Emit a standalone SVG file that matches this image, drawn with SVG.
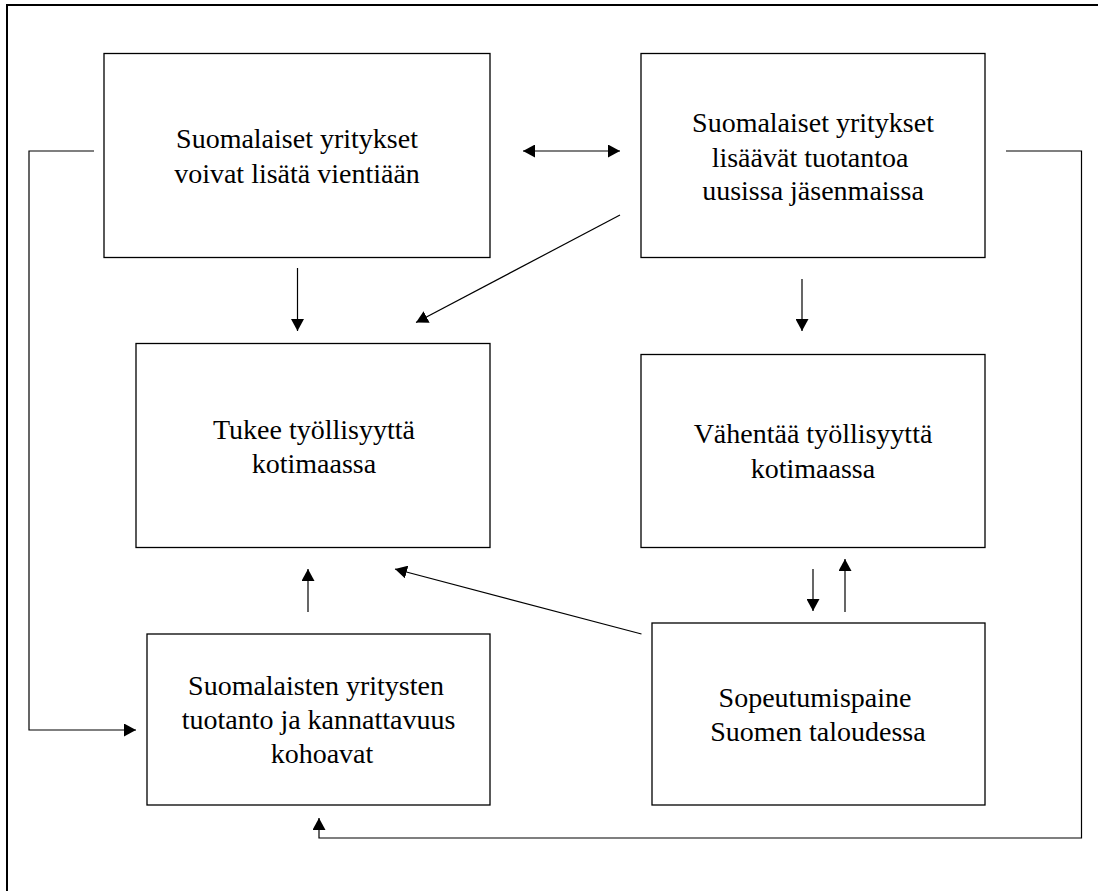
<svg xmlns="http://www.w3.org/2000/svg" width="1098" height="891" viewBox="0 0 1098 891">
<defs>
<marker id="ah" viewBox="0 0 12 13" refX="12" refY="6.5" markerWidth="12" markerHeight="13" markerUnits="userSpaceOnUse" orient="auto-start-reverse">
<path d="M0,0 L12,6.5 L0,13 z" fill="#000"/>
</marker>
</defs>
<rect width="1098" height="891" fill="#fff"/>
<path fill="none" stroke="#000" stroke-width="2" d="M7,895 L7,5 L1102,5"/>
<g id="n1" font-family="Liberation Serif, serif" font-size="28" text-anchor="middle">
<rect fill="#fff" stroke="#000" stroke-width="1.3" x="104" y="53.5" width="386" height="204"/>
<text x="297" y="148">Suomalaiset yritykset</text>
<text x="297" y="183">voivat lisätä vientiään</text>
</g>
<g id="n2" font-family="Liberation Serif, serif" font-size="28" text-anchor="middle">
<rect fill="#fff" stroke="#000" stroke-width="1.3" x="641" y="53.5" width="344" height="204"/>
<text x="813" y="131.5">Suomalaiset yritykset</text>
<text x="810" y="166.5">lisäävät tuotantoa</text>
<text x="813" y="200">uusissa jäsenmaissa</text>
</g>
<g id="n3" font-family="Liberation Serif, serif" font-size="28" text-anchor="middle">
<rect fill="#fff" stroke="#000" stroke-width="1.3" x="136" y="343.5" width="354" height="204"/>
<text x="314" y="439">Tukee työllisyyttä</text>
<text x="314" y="473">kotimaassa</text>
</g>
<g id="n4" font-family="Liberation Serif, serif" font-size="28" text-anchor="middle">
<rect fill="#fff" stroke="#000" stroke-width="1.3" x="641" y="354.5" width="344" height="193"/>
<text x="813" y="442.5">Vähentää työllisyyttä</text>
<text x="813" y="478">kotimaassa</text>
</g>
<g id="n5" font-family="Liberation Serif, serif" font-size="28" text-anchor="middle">
<rect fill="#fff" stroke="#000" stroke-width="1.3" x="147" y="634" width="343" height="171"/>
<text x="316" y="695">Suomalaisten yritysten</text>
<text x="318.5" y="729">tuotanto ja kannattavuus</text>
<text x="322" y="762.5">kohoavat</text>
</g>
<g id="n6" font-family="Liberation Serif, serif" font-size="28" text-anchor="middle">
<rect fill="#fff" stroke="#000" stroke-width="1.3" x="652" y="623" width="333" height="182"/>
<text x="815" y="706.5">Sopeutumispaine</text>
<text x="818" y="741">Suomen taloudessa</text>
</g>
<g id="connectors" fill="none" stroke="#000" stroke-width="1.2">
<line x1="523" y1="151" x2="620" y2="151" marker-start="url(#ah)" marker-end="url(#ah)"/>
<line x1="297.5" y1="268" x2="297.5" y2="331" marker-end="url(#ah)"/>
<line x1="620" y1="215" x2="416" y2="322.5" marker-end="url(#ah)"/>
<line x1="802" y1="279" x2="802" y2="331" marker-end="url(#ah)"/>
<line x1="308" y1="612" x2="308" y2="569" marker-end="url(#ah)"/>
<line x1="641.5" y1="634" x2="395" y2="569" marker-end="url(#ah)"/>
<line x1="813" y1="569" x2="813" y2="611" marker-end="url(#ah)"/>
<line x1="845" y1="612" x2="845" y2="559" marker-end="url(#ah)"/>
<polyline points="94,151 29,151 29,730 136,730" marker-end="url(#ah)"/>
<polyline points="1006,151 1081.5,151 1081.5,838 319,838 319,818" marker-end="url(#ah)"/>
</g>
</svg>
